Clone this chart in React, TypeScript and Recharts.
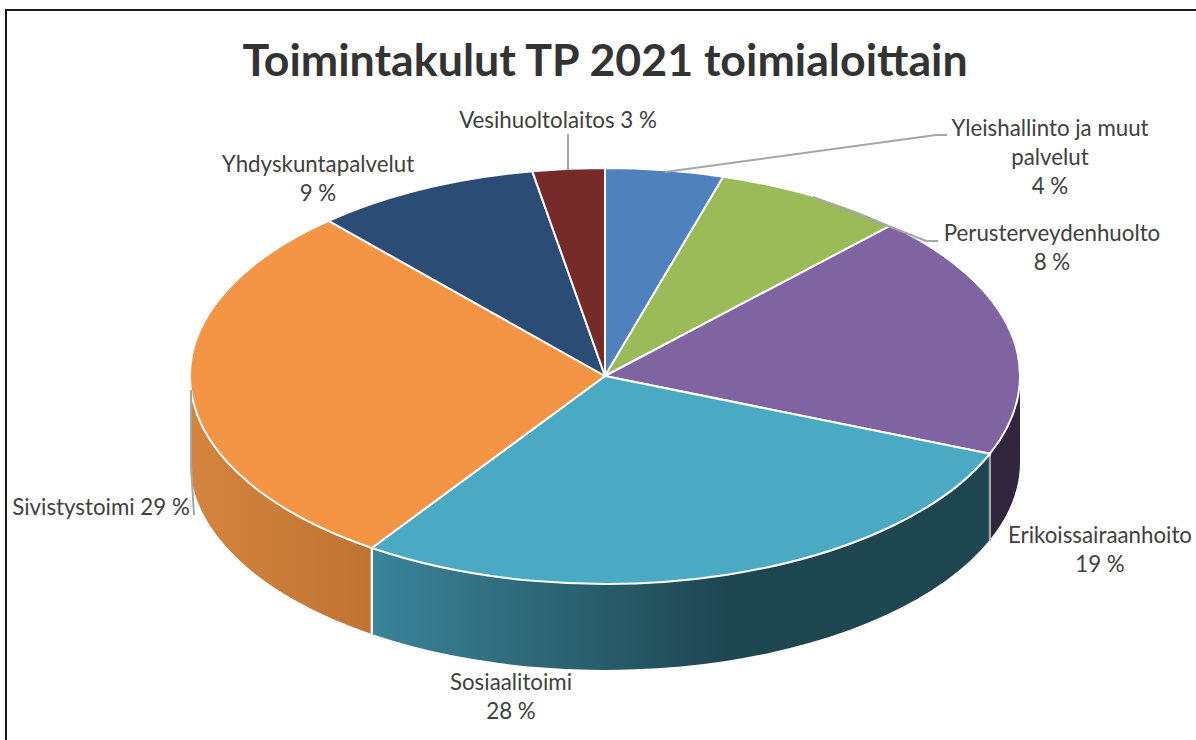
import { Pie, PieChart } from 'recharts';

const CATEGORIES = [
  'Yleishallinto ja muut palvelut',
  'Perusterveydenhuolto',
  'Erikoissairaanhoito',
  'Sosiaalitoimi',
  'Sivistystoimi',
  'Yhdyskuntapalvelut',
  'Vesihuoltolaitos',
];
const VALUES = [4.6, 7.5, 19.0, 28.4, 28.9, 8.8, 2.8];
const COLORS = ['#4f81bd', '#9bbb59', '#8064a2', '#4aa9c3', '#f49545', '#2b4c74', '#762b29'];
const WALL_COLORS = ['#3a5f8c', '#728a42', '#32263f', 'url(#wallTeal)', 'url(#wallOrange)', '#1f3855', '#571f1e'];

// label text rows and where each label block sits: [centre x, first baseline]
const LABEL_ROWS = [
  ['Yleishallinto ja muut', 'palvelut', '4 %'],
  ['Perusterveydenhuolto', '8 %'],
  ['Erikoissairaanhoito', '19 %'],
  ['Sosiaalitoimi', '28 %'],
  ['Sivistystoimi 29 %'],
  ['Yhdyskuntapalvelut', '9 %'],
  ['Vesihuoltolaitos 3 %'],
];
const LABEL_ANCHORS = [
  [1050, 136],
  [1052, 241],
  [1100, 543],
  [511, 690],
  [101, 515],
  [318, 172],
  [558, 128],
];
const LEADER_LINES = [
  '665,172 936,135 947,135',
  '813,197 891,227 926,241 938,241',
  '990,456 990,540',
  '',
  '191,390 191,465 194,515',
  '',
  '568,134 568,170',
];

const chartData = CATEGORIES.map((name, i) => ({ name, value: VALUES[i], fill: COLORS[i] }));

const TILT = 0.501;
const DEPTH = 86;
const FONT = 'Lato, "Open Sans", sans-serif';

function Slice(props: any) {
  const { cx, cy, outerRadius, startAngle, endAngle, fill, index } = props;
  const rx = outerRadius;
  const ry = outerRadius * TILT;
  const px = (a: number) => cx + rx * Math.cos((a * Math.PI) / 180);
  const py = (a: number) => cy - ry * Math.sin((a * Math.PI) / 180);

  const large = startAngle - endAngle > 180 ? 1 : 0;
  const top = `M${cx},${cy} L${px(startAngle)},${py(startAngle)} A${rx},${ry} 0 ${large} 1 ${px(endAngle)},${py(endAngle)} Z`;

  // only the part of the rim below the centre line shows
  const s = Math.min(startAngle, 0);
  const e = Math.max(endAngle, -180);
  const hasWall = s > e;
  const wall = `M${px(s)},${py(s)} A${rx},${ry} 0 0 1 ${px(e)},${py(e)} L${px(e)},${py(e) + DEPTH} A${rx},${ry} 0 0 0 ${px(s)},${py(s) + DEPTH} Z`;

  return (
    <g>
      {hasWall && <path d={wall} fill={WALL_COLORS[index]} stroke="none" />}
      {hasWall && s === startAngle && (
        <line x1={px(s)} y1={py(s)} x2={px(s)} y2={py(s) + DEPTH} stroke="#ffffff" strokeWidth={2} />
      )}
      {hasWall && e === endAngle && (
        <line x1={px(e)} y1={py(e)} x2={px(e)} y2={py(e) + DEPTH} stroke="#ffffff" strokeWidth={2} />
      )}
      <path d={top} fill={fill} stroke="#ffffff" strokeWidth={2} strokeLinejoin="round" />
    </g>
  );
}

function SliceLabel(props: any) {
  const { index } = props;
  const [x, y] = LABEL_ANCHORS[index];
  return (
    <g>
      {LEADER_LINES[index] && (
        <polyline points={LEADER_LINES[index]} fill="none" stroke="#a6a6a6" strokeWidth={2} />
      )}
      <text x={x} y={y} textAnchor="middle" fontFamily={FONT} fontSize={22.3} fill="#404040">
        {LABEL_ROWS[index].map((row, i) => (
          <tspan key={row} x={x} dy={i === 0 ? 0 : 29}>
            {row}
          </tspan>
        ))}
      </text>
    </g>
  );
}

export default function App() {
  return (
    <div style={{ position: 'absolute', left: 0, top: 0, width: 1196, height: 740, background: '#ffffff' }}>
      <PieChart width={1196} height={740} margin={{ top: 0, right: 0, bottom: 0, left: 0 }}>
        <defs>
          <linearGradient id="wallTeal" gradientUnits="userSpaceOnUse" x1={372} y1={0} x2={730} y2={0}>
            <stop offset="0%" stopColor="#3b8499" />
            <stop offset="100%" stopColor="#1e4650" />
          </linearGradient>
          <linearGradient id="wallOrange" gradientUnits="userSpaceOnUse" x1={190} y1={0} x2={372} y2={0}>
            <stop offset="0%" stopColor="#d5843e" />
            <stop offset="100%" stopColor="#bf7333" />
          </linearGradient>
        </defs>
        <Pie
          data={chartData}
          dataKey="value"
          nameKey="name"
          cx={605}
          cy={376}
          innerRadius={0}
          outerRadius={415}
          startAngle={90}
          endAngle={-270}
          shape={Slice}
          label={SliceLabel}
          labelLine={false}
          isAnimationActive={false}
        />
        <text x={605} y={76} textAnchor="middle" fontFamily={FONT} fontWeight={700} fontSize={44.7} fill="#333333">
          Toimintakulut TP 2021 toimialoittain
        </text>
      </PieChart>
      <div
        style={{
          position: 'absolute',
          left: 5,
          top: 9,
          right: 0,
          bottom: 0,
          borderLeft: '2px solid #1a1a1a',
          borderTop: '2px solid #1a1a1a',
          pointerEvents: 'none',
        }}
      />
    </div>
  );
}
